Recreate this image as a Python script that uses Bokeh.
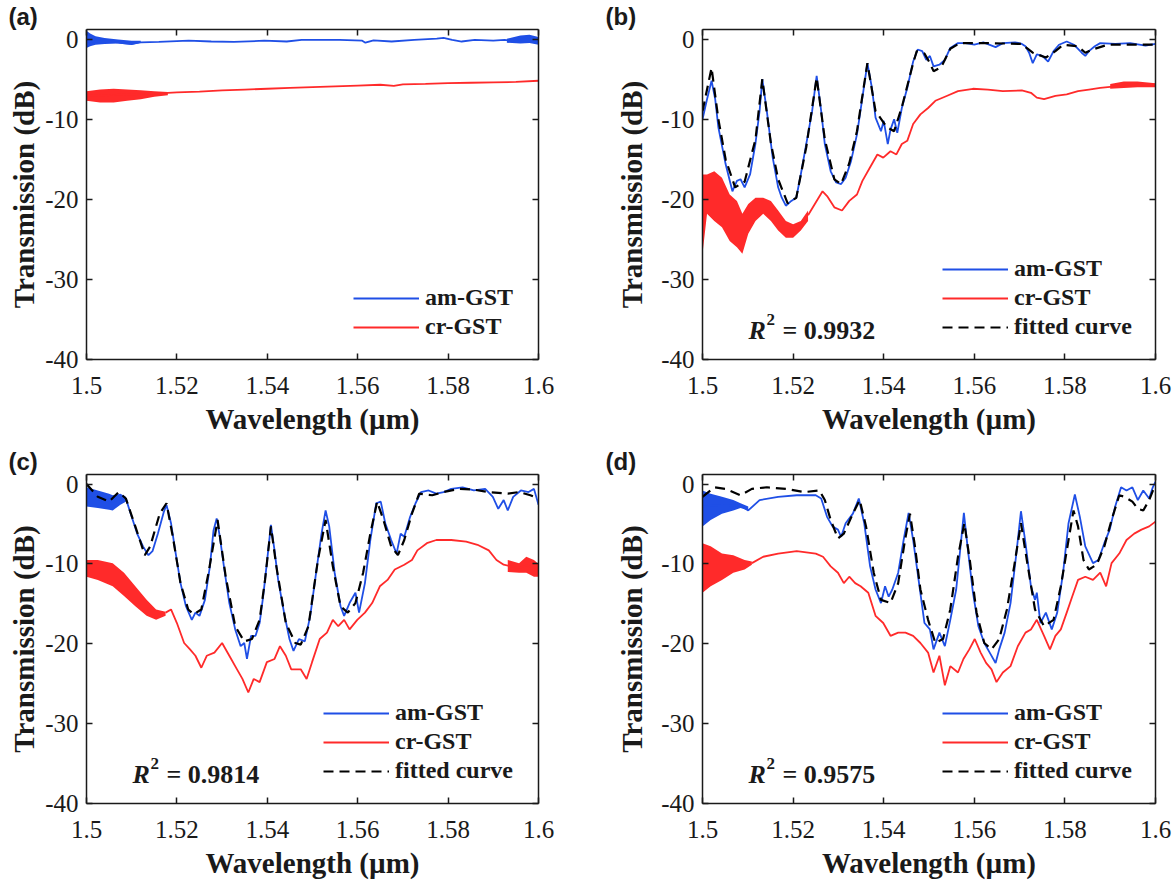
from bokeh.plotting import figure
from bokeh.layouts import column, row
from bokeh.models import (Range1d, LinearAxis, FixedTicker, Label, Legend,
                          LegendItem, CustomJSTickFormatter)
from bokeh.embed import file_html
from bokeh.resources import INLINE

# ---------------- data (wavelength in um, transmission in dB) ----------------
X_TICKS = [1.5, 1.52, 1.54, 1.56, 1.58, 1.6]
Y_TICKS = [-40, -30, -20, -10, 0]

# (a)
a_am_x = [1.500, 1.503, 1.506, 1.508, 1.510, 1.512, 1.516, 1.5226, 1.5276, 1.5326, 1.5393,
          1.5443, 1.5476, 1.556, 1.561, 1.5617, 1.5635, 1.5675, 1.5725, 1.5775, 1.579,
          1.5809, 1.583, 1.5859, 1.590, 1.5925, 1.5955, 1.5975, 1.600]
a_am_y = [-0.3, -0.3, -0.35, -0.5, -0.6, -0.4, -0.35, -0.2, -0.3, -0.35, -0.2,
          -0.3, -0.1, -0.1, -0.2, -0.45, -0.15, -0.3, -0.1, 0.06, 0.15,
          -0.1, -0.3, -0.1, -0.2, -0.1, -0.3, 0.3, -0.3]
a_am_band_x = [1.500, 1.5008, 1.502, 1.504, 1.507, 1.510, 1.512]
a_am_band_lo = [-1.1, -0.9, -0.7, -0.6, -0.55, -0.75, -0.45]
a_am_band_hi = [1.05, 0.7, 0.35, 0.15, -0.05, -0.2, -0.2]
a_am_band2_x = [1.593, 1.596, 1.598, 1.600]
a_am_band2_lo = [-0.45, -0.55, -0.5, -0.7]
a_am_band2_hi = [0.05, 0.45, 0.55, 0.25]
a_cr_x = [1.500, 1.505, 1.510, 1.515, 1.520, 1.525, 1.530, 1.535, 1.540, 1.545, 1.550,
          1.555, 1.560, 1.565, 1.568, 1.570, 1.575, 1.580, 1.585, 1.590, 1.595, 1.600]
a_cr_y = [-7.1, -7.0, -6.9, -6.8, -6.65, -6.55, -6.4, -6.3, -6.2, -6.1, -6.0,
          -5.9, -5.8, -5.7, -5.85, -5.65, -5.6, -5.5, -5.45, -5.4, -5.35, -5.2]
a_cr_band_x = [1.500, 1.503, 1.506, 1.509, 1.512, 1.515, 1.518]
a_cr_band_lo = [-7.7, -7.9, -7.9, -7.7, -7.5, -7.2, -7.0]
a_cr_band_hi = [-6.5, -6.3, -6.2, -6.3, -6.4, -6.5, -6.6]

# (b)
b_am_x = [1.5000, 1.5010, 1.5020, 1.5028, 1.5035, 1.5051, 1.5066, 1.5076, 1.5084, 1.5093,
          1.5105, 1.5117, 1.5126, 1.5132, 1.5142, 1.5155, 1.5167, 1.5175, 1.5184, 1.5196,
          1.5207, 1.5217, 1.5229, 1.5242, 1.5252, 1.5262, 1.5270, 1.5283, 1.5295, 1.5306,
          1.5316, 1.5328, 1.5341, 1.5353, 1.5364, 1.5374, 1.5382, 1.5394, 1.5400, 1.5409,
          1.5415, 1.5423, 1.5430, 1.5440, 1.5452, 1.5465, 1.5475, 1.5485, 1.5494, 1.5502,
          1.5510, 1.5523, 1.5535, 1.5547, 1.5564, 1.5581, 1.5600, 1.5620, 1.5647, 1.5663,
          1.5690, 1.5705, 1.5713, 1.5721, 1.5729, 1.5738, 1.5750, 1.5763, 1.5775, 1.5787,
          1.5804, 1.5820, 1.5837, 1.5845, 1.5853, 1.5866, 1.5878, 1.5911, 1.5944, 1.5978,
          1.6000]
b_am_y = [-10.0, -7.5, -5.2, -7.5, -11.0, -15.6, -19.0, -17.7, -17.5, -18.5,
          -16.9, -13.0, -9.0, -5.0, -9.0, -14.8, -18.5, -19.8, -20.8, -20.2,
          -19.8, -16.9, -13.1, -9.0, -4.6, -9.0, -13.1, -16.5, -17.9, -18.1,
          -17.3, -15.2, -11.9, -7.3, -3.0, -6.1, -9.8, -11.5, -10.2, -13.1,
          -11.3, -10.0, -11.7, -8.6, -6.1, -2.8, -1.3, -1.5, -2.6, -2.1,
          -3.4, -3.2, -2.6, -1.1, -0.5, -0.5, -0.7, -0.4, -1.0, -0.5,
          -0.4, -0.6, -0.9, -1.7, -3.0, -1.9, -2.1, -2.8, -1.5, -0.7,
          -0.3, -0.7, -1.7, -2.1, -1.5, -0.9, -0.5, -0.6, -0.5, -0.8,
          -0.6]
b_fit_x = [1.5000, 1.5020, 1.5035, 1.5051, 1.5072, 1.5093, 1.5117, 1.5132, 1.5151, 1.5167,
           1.5188, 1.5207, 1.5229, 1.5252, 1.5270, 1.5291, 1.5306, 1.5324, 1.5341, 1.5364,
           1.5382, 1.5407, 1.5423, 1.5440, 1.5465, 1.5473, 1.5490, 1.5502, 1.5510, 1.5527,
           1.5547, 1.5568, 1.5630, 1.5705, 1.5713, 1.5729, 1.5758, 1.5779, 1.5796, 1.5829,
           1.5845, 1.5866, 1.5895, 1.6000]
b_fit_y = [-9.0, -3.6, -10.0, -15.0, -18.5, -17.8, -12.5, -5.0, -13.0, -17.5,
           -20.5, -19.8, -13.5, -4.8, -12.5, -17.5, -18.1, -15.5, -11.5, -3.0,
           -9.0, -11.0, -11.5, -8.5, -3.0, -1.5, -1.8, -3.0, -4.0, -3.5,
           -1.2, -0.5, -0.5, -0.6, -1.0, -1.7, -2.3, -1.5, -0.7, -0.9,
           -1.7, -1.2, -0.7, -0.7]
b_cr_x = [1.5233, 1.5250, 1.5265, 1.5275, 1.5291, 1.5308, 1.5324, 1.5341, 1.5353, 1.5370,
          1.5386, 1.5399, 1.5415, 1.5428, 1.5440, 1.5452, 1.5465, 1.5481, 1.5498, 1.5514,
          1.5539, 1.5564, 1.5597, 1.5630, 1.5663, 1.5705, 1.5725, 1.5738, 1.5754, 1.5779,
          1.5804, 1.5829, 1.5853, 1.5878, 1.5911, 1.5953, 1.6000]
b_cr_y = [-22.0, -20.4, -19.0, -19.6, -21.0, -21.4, -20.2, -19.4, -17.7, -16.0,
          -14.4, -14.8, -14.0, -14.4, -13.1, -12.7, -10.6, -9.4, -8.6, -7.7,
          -7.1, -6.5, -6.2, -6.3, -6.5, -6.4, -6.7, -7.3, -7.5, -7.1,
          -6.9, -6.5, -6.3, -6.1, -5.9, -5.6, -5.7]
b_cr_band_x = [1.5000, 1.5010, 1.5026, 1.5043, 1.5060, 1.5076, 1.5088, 1.5101, 1.5117,
               1.5134, 1.5151, 1.5167, 1.5184, 1.5200, 1.5217, 1.5233]
b_cr_band_lo = [-26.8, -21.8, -22.7, -23.5, -25.2, -26.0, -26.8, -24.3, -22.7,
                -21.8, -22.7, -23.9, -24.8, -24.8, -23.9, -22.7]
b_cr_band_hi = [-16.9, -16.9, -16.5, -17.3, -19.4, -20.2, -21.8, -20.6, -19.8,
                -19.8, -20.2, -21.4, -22.7, -23.1, -22.7, -21.4]
b_cr_band2_x = [1.5900, 1.5930, 1.5960, 1.6000]
b_cr_band2_lo = [-6.2, -6.1, -6.0, -6.0]
b_cr_band2_hi = [-5.6, -5.3, -5.3, -5.5]

# (c)
c_am_x = [1.5000, 1.5025, 1.5050, 1.5075, 1.5087, 1.5100, 1.5112, 1.5125, 1.5137, 1.5146,
          1.5158, 1.5171, 1.5177, 1.5187, 1.5196, 1.5208, 1.5220, 1.5233, 1.5241, 1.5250,
          1.5262, 1.5273, 1.5281, 1.5288, 1.5295, 1.5304, 1.5316, 1.5329, 1.5341, 1.5349,
          1.5355, 1.5364, 1.5374, 1.5383, 1.5391, 1.5399, 1.5408, 1.5416, 1.5424, 1.5437,
          1.5449, 1.5458, 1.5470, 1.5483, 1.5495, 1.5508, 1.5520, 1.5529, 1.5537, 1.5549,
          1.5562, 1.5570, 1.5582, 1.5595, 1.5603, 1.5616, 1.5628, 1.5641, 1.5651, 1.5661,
          1.5674, 1.5686, 1.5695, 1.5703, 1.5716, 1.5728, 1.5740, 1.5757, 1.5774, 1.5790,
          1.5807, 1.5832, 1.5857, 1.5882, 1.5899, 1.5911, 1.5923, 1.5932, 1.5944, 1.5961,
          1.5978, 1.5990, 1.6000]
c_am_y = [-1.6, -1.9, -2.3, -1.9, -1.8, -4.1, -6.2, -7.8, -8.9, -8.4,
          -6.2, -3.5, -2.6, -4.9, -8.2, -12.4, -15.3, -17.0, -16.1, -16.5,
          -14.5, -10.3, -5.8, -4.3, -6.6, -10.3, -14.9, -18.2, -20.3, -19.9,
          -21.9, -19.0, -19.0, -17.4, -14.0, -9.9, -5.1, -8.3, -12.0, -16.1,
          -19.4, -20.9, -19.4, -19.7, -16.5, -11.1, -6.2, -3.3, -5.3, -11.1,
          -15.3, -16.5, -14.9, -13.6, -16.1, -12.4, -7.0, -2.4, -2.2, -4.9,
          -7.0, -8.7, -6.2, -6.6, -4.1, -2.4, -1.0, -0.8, -1.2, -1.0,
          -0.6, -0.4, -0.8, -0.6, -1.6, -3.1, -2.0, -3.3, -1.6, -0.8,
          -1.0, -0.6, -2.6]
c_am_band_x = [1.5000, 1.5025, 1.5050, 1.5058, 1.5075, 1.5087]
c_am_band_lo = [-2.8, -3.0, -3.2, -3.3, -2.6, -2.2]
c_am_band_hi = [-0.4, -0.8, -1.2, -1.4, -1.2, -1.6]
c_fit_x = [1.5000, 1.5025, 1.5050, 1.5071, 1.5087, 1.5108, 1.5129, 1.5141, 1.5162, 1.5177,
           1.5191, 1.5208, 1.5225, 1.5237, 1.5254, 1.5270, 1.5290, 1.5308, 1.5329, 1.5349,
           1.5366, 1.5383, 1.5395, 1.5408, 1.5420, 1.5441, 1.5462, 1.5474, 1.5491, 1.5512,
           1.5529, 1.5545, 1.5562, 1.5578, 1.5595, 1.5612, 1.5628, 1.5643, 1.5657, 1.5674,
           1.5689, 1.5703, 1.5720, 1.5736, 1.5765, 1.5790, 1.5824, 1.5857, 1.5890, 1.5932,
           1.5957, 1.5982, 1.6000]
c_fit_y = [0.0, -1.6, -2.2, -1.0, -1.8, -5.3, -8.9, -7.8, -3.7, -2.4,
           -6.6, -12.4, -15.7, -16.3, -15.7, -11.1, -4.5, -11.6, -17.8, -19.7,
           -19.4, -17.0, -12.0, -5.3, -10.3, -17.4, -19.9, -20.1, -17.8, -9.5,
           -4.5, -10.3, -15.3, -16.1, -14.9, -11.1, -6.2, -2.2, -4.5, -7.8,
           -8.9, -7.0, -3.7, -1.2, -1.4, -1.0, -0.6, -0.7, -1.0, -1.2,
           -1.0, -1.4, -1.8]
c_cr_x = [1.5175, 1.5187, 1.5200, 1.5216, 1.5229, 1.5241, 1.5254, 1.5266, 1.5283, 1.5300,
          1.5316, 1.5333, 1.5345, 1.5358, 1.5370, 1.5383, 1.5399, 1.5416, 1.5428, 1.5441,
          1.5453, 1.5474, 1.5487, 1.5499, 1.5516, 1.5532, 1.5545, 1.5557, 1.5570, 1.5582,
          1.5599, 1.5616, 1.5632, 1.5649, 1.5666, 1.5682, 1.5703, 1.5720, 1.5732, 1.5753,
          1.5774, 1.5807, 1.5840, 1.5865, 1.5890, 1.5907, 1.5923, 1.5940, 1.5957, 1.5973,
          1.5990, 1.6000]
c_cr_y = [-16.1, -15.7, -17.4, -19.9, -20.7, -21.5, -23.0, -21.5, -21.1, -19.9,
          -21.5, -23.2, -24.4, -26.1, -24.4, -24.8, -22.3, -21.9, -20.3, -21.5,
          -23.2, -23.2, -24.4, -22.3, -19.4, -18.6, -17.0, -17.8, -17.0, -18.2,
          -17.0, -16.1, -14.9, -12.8, -12.0, -10.7, -10.1, -9.5, -8.3, -7.4,
          -7.0, -7.0, -7.2, -7.6, -8.3, -9.5, -10.1, -10.3, -10.5, -10.2,
          -10.4, -10.7]
c_cr_band_x = [1.5000, 1.5025, 1.5058, 1.5083, 1.5108, 1.5133, 1.5154, 1.5175]
c_cr_band_lo = [-11.6, -12.0, -12.8, -14.0, -15.3, -16.5, -17.0, -16.5]
c_cr_band_hi = [-9.5, -9.5, -9.9, -11.1, -12.8, -14.5, -15.7, -16.0]
c_cr_band2_x = [1.5932, 1.5957, 1.5973, 1.5990, 1.6000]
c_cr_band2_lo = [-11.0, -11.1, -11.1, -11.6, -11.6]
c_cr_band2_hi = [-9.5, -9.9, -9.1, -9.5, -10.0]

# (d)
d_am_x = [1.5000, 1.5043, 1.5084, 1.5101, 1.5126, 1.5167, 1.5208, 1.5250, 1.5262, 1.5275,
          1.5287, 1.5299, 1.5306, 1.5316, 1.5332, 1.5345, 1.5357, 1.5370, 1.5382, 1.5394,
          1.5403, 1.5411, 1.5419, 1.5432, 1.5444, 1.5455, 1.5465, 1.5477, 1.5490, 1.5502,
          1.5510, 1.5523, 1.5535, 1.5547, 1.5560, 1.5568, 1.5577, 1.5585, 1.5597, 1.5609,
          1.5622, 1.5634, 1.5647, 1.5655, 1.5667, 1.5680, 1.5692, 1.5703, 1.5713, 1.5725,
          1.5734, 1.5738, 1.5746, 1.5758, 1.5771, 1.5783, 1.5796, 1.5808, 1.5822, 1.5833,
          1.5845, 1.5862, 1.5874, 1.5887, 1.5899, 1.5911, 1.5924, 1.5936, 1.5949, 1.5961,
          1.5973, 1.5986, 1.5994, 1.6000]
d_am_y = [-2.8, -2.6, -2.7, -3.3, -2.0, -1.6, -1.4, -1.4, -1.8, -4.1,
          -5.3, -5.7, -6.6, -4.9, -3.7, -1.8, -4.9, -10.3, -13.2, -14.9,
          -12.8, -14.1, -13.2, -11.1, -7.0, -3.6, -7.0, -12.0, -17.4, -18.2,
          -20.7, -18.6, -20.3, -17.0, -13.2, -8.7, -3.6, -7.8, -13.6, -17.8,
          -19.9, -21.1, -22.4, -20.7, -18.6, -14.9, -9.1, -3.4, -7.4, -12.8,
          -14.5, -13.6, -17.4, -16.1, -18.2, -16.1, -11.1, -4.9, -1.3, -4.1,
          -7.8, -9.9, -9.5, -7.4, -5.7, -2.8, -0.4, -0.8, -0.4, -2.0,
          -0.8, -1.8, -0.4, 0.3]
d_am_band_x = [1.5000, 1.5018, 1.5043, 1.5068, 1.5084, 1.5101]
d_am_band_lo = [-5.3, -4.5, -3.7, -3.3, -3.0, -3.3]
d_am_band_hi = [-0.8, -1.2, -1.6, -2.0, -2.4, -2.8]
d_fit_x = [1.5000, 1.5026, 1.5051, 1.5084, 1.5109, 1.5142, 1.5184, 1.5225, 1.5258, 1.5270,
           1.5283, 1.5299, 1.5312, 1.5332, 1.5347, 1.5361, 1.5378, 1.5394, 1.5415, 1.5432,
           1.5447, 1.5458, 1.5469, 1.5481, 1.5498, 1.5514, 1.5531, 1.5547, 1.5564, 1.5578,
           1.5590, 1.5605, 1.5622, 1.5638, 1.5655, 1.5672, 1.5688, 1.5703, 1.5717, 1.5734,
           1.5754, 1.5775, 1.5791, 1.5808, 1.5819, 1.5829, 1.5841, 1.5853, 1.5870, 1.5887,
           1.5903, 1.5920, 1.5932, 1.5949, 1.5961, 1.5973, 1.5986, 1.6000]
d_fit_y = [-1.6, -0.4, -0.6, -1.4, -0.6, -0.4, -0.6, -1.0, -0.8, -2.0,
           -4.5, -6.8, -6.2, -3.7, -2.0, -5.3, -11.1, -14.5, -14.9, -12.4,
           -7.0, -3.7, -7.8, -13.2, -17.0, -19.9, -19.4, -15.7, -9.1, -4.9,
           -9.5, -16.1, -19.9, -20.7, -19.4, -15.7, -10.3, -4.9, -9.9, -15.7,
           -17.8, -17.0, -12.8, -7.0, -3.3, -5.3, -9.5, -10.7, -10.1, -7.8,
           -4.5, -1.4, -1.6, -2.2, -3.1, -3.3, -2.0, 0.0]
d_cr_x = [1.5109, 1.5134, 1.5167, 1.5208, 1.5250, 1.5266, 1.5283, 1.5299, 1.5312, 1.5324,
          1.5337, 1.5349, 1.5366, 1.5382, 1.5399, 1.5415, 1.5432, 1.5448, 1.5465, 1.5481,
          1.5498, 1.5510, 1.5523, 1.5535, 1.5547, 1.5564, 1.5576, 1.5589, 1.5601, 1.5614,
          1.5626, 1.5638, 1.5649, 1.5663, 1.5680, 1.5696, 1.5713, 1.5725, 1.5738, 1.5754,
          1.5767, 1.5779, 1.5791, 1.5804, 1.5816, 1.5829, 1.5845, 1.5862, 1.5878, 1.5891,
          1.5903, 1.5920, 1.5936, 1.5953, 1.5969, 1.5986, 1.6000]
d_cr_y = [-9.9, -9.1, -8.7, -8.4, -8.7, -9.1, -10.3, -11.1, -12.4, -11.6,
          -12.4, -12.8, -13.6, -16.5, -17.4, -19.0, -18.6, -18.6, -19.0, -19.9,
          -21.1, -23.6, -21.5, -25.2, -22.8, -23.6, -21.9, -20.7, -19.4, -21.1,
          -22.4, -23.2, -24.8, -23.6, -22.8, -20.3, -18.6, -18.2, -17.0, -19.0,
          -20.7, -19.0, -18.2, -16.1, -14.1, -12.0, -11.6, -12.0, -11.1, -12.8,
          -9.9, -8.7, -7.0, -6.2, -5.7, -5.3, -4.7]
d_cr_band_x = [1.5000, 1.5018, 1.5043, 1.5068, 1.5093, 1.5109]
d_cr_band_lo = [-13.6, -12.8, -12.0, -11.1, -10.7, -10.1]
d_cr_band_hi = [-7.4, -7.8, -8.7, -8.9, -9.5, -9.7]

# ---------------- styling ----------------
BLUE = "#1F4FE6"
RED = "#FF2A2A"
INK = "#1a1a1a"
SERIF = "Liberation Serif"
SANS = "Liberation Sans"
XFMT = CustomJSTickFormatter(code="return (Math.round(tick*100)/100).toString();")
YFMT = CustomJSTickFormatter(code="return Math.round(tick).toString();")
EMPTY = CustomJSTickFormatter(code="return '';")


def style_axis(ax, ticks, hidden=False):
    ax.ticker = FixedTicker(ticks=ticks)
    ax.major_tick_in = 6
    ax.major_tick_out = 0
    ax.minor_tick_line_color = None
    ax.axis_line_width = 1.5
    ax.major_tick_line_width = 1.5
    ax.axis_line_color = INK
    ax.major_tick_line_color = INK
    ax.major_label_text_font = SERIF
    ax.major_label_text_font_size = "25px"
    ax.major_label_text_color = INK
    if hidden:
        ax.formatter = EMPTY
        ax.major_label_text_font_size = "1px"
        ax.major_label_standoff = 0


def panel(letter, w, h, bl, br, bt, bb, ylab_standoff, am, cr, fit, bands, r2, legend_xy):
    p = figure(width=w, height=h, x_range=Range1d(1.5, 1.6), y_range=Range1d(-40, 1.2),
               output_backend="svg", toolbar_location=None,
               min_border_left=bl, min_border_right=br, min_border_top=bt, min_border_bottom=bb,
               x_axis_label="Wavelength (µm)", y_axis_label="Transmission (dB)")
    p.grid.visible = False
    p.outline_line_color = None
    style_axis(p.xaxis[0], X_TICKS)
    style_axis(p.yaxis[0], Y_TICKS)
    p.xaxis[0].formatter = XFMT
    p.yaxis[0].formatter = YFMT
    p.xaxis[0].major_label_standoff = 17
    p.yaxis[0].major_label_standoff = 8
    for ax in (p.xaxis[0], p.yaxis[0]):
        ax.axis_label_text_font = SERIF
        ax.axis_label_text_font_style = "bold"
        ax.axis_label_text_font_size = "29px"
        ax.axis_label_text_color = INK
    p.xaxis[0].axis_label_standoff = 6
    p.yaxis[0].axis_label_standoff = ylab_standoff
    ra = LinearAxis()
    style_axis(ra, Y_TICKS, hidden=True)
    p.add_layout(ra, "right")
    ta = LinearAxis()
    style_axis(ta, X_TICKS, hidden=True)
    p.add_layout(ta, "above")

    p.title.text = letter[0]
    p.title.align = "left"
    p.title.offset = letter[1]
    p.title.standoff = 0
    p.title.text_font = SANS
    p.title.text_font_style = "bold"
    p.title.text_font_size = "24px"
    p.title.text_color = INK

    for bx, lo, hi, col in bands:
        p.varea(x=bx, y1=lo, y2=hi, fill_color=col, fill_alpha=1.0)
    r_cr = p.line(cr[0], cr[1], line_color=RED, line_width=1.8)
    r_am = p.line(am[0], am[1], line_color=BLUE, line_width=1.8)
    items = [LegendItem(label="am-GST", renderers=[r_am]),
             LegendItem(label="cr-GST", renderers=[r_cr])]
    if fit is not None:
        r_fit = p.line(fit[0], fit[1], line_color="black", line_width=2.2, line_dash="10 6")
        items.append(LegendItem(label="fitted curve", renderers=[r_fit]))

    leg = Legend(items=items, location=legend_xy, orientation="vertical",
                 border_line_color=None, background_fill_alpha=0, padding=0, margin=0,
                 spacing=2, glyph_width=66, glyph_height=26, label_height=26,
                 label_standoff=6, label_text_font=SERIF, label_text_font_style="bold",
                 label_text_font_size="24px", label_text_color=INK)
    p.add_layout(leg)

    if r2 is not None:
        p.add_layout(Label(x=1.5, y=-40, x_offset=46, y_offset=29, text="R",
                           text_font=SERIF, text_font_style="bold italic", text_font_size="26px",
                           text_baseline="alphabetic", text_color=INK))
        p.add_layout(Label(x=1.5, y=-40, x_offset=64, y_offset=40, text="2",
                           text_font=SERIF, text_font_style="bold", text_font_size="17px",
                           text_baseline="alphabetic", text_color=INK))
        p.add_layout(Label(x=1.5, y=-40, x_offset=80, y_offset=29, text="= " + r2,
                           text_font=SERIF, text_font_style="bold", text_font_size="26px",
                           text_baseline="alphabetic", text_color=INK))
    return p


pa = panel(("(a)", -78), 592, 445, 86, 54, 27, 86, 2,
           (a_am_x, a_am_y), (a_cr_x, a_cr_y), None,
           [(a_cr_band_x, a_cr_band_lo, a_cr_band_hi, RED),
            (a_am_band_x, a_am_band_lo, a_am_band_hi, BLUE),
            (a_am_band2_x, a_am_band2_lo, a_am_band2_hi, BLUE)],
           None, (267, 19))
pb = panel(("(b)", -97), 584, 445, 110, 21, 27, 86, 10,
           (b_am_x, b_am_y), (b_cr_x, b_cr_y), (b_fit_x, b_fit_y),
           [(b_cr_band_x, b_cr_band_lo, b_cr_band_hi, RED),
            (b_cr_band2_x, b_cr_band2_lo, b_cr_band2_hi, RED)],
           "0.9932", (240, 19))
pc = panel(("(c)", -78), 592, 444, 86, 54, 27, 86, 2,
           (c_am_x, c_am_y), (c_cr_x, c_cr_y), (c_fit_x, c_fit_y),
           [(c_cr_band_x, c_cr_band_lo, c_cr_band_hi, RED),
            (c_cr_band2_x, c_cr_band2_lo, c_cr_band2_hi, RED),
            (c_am_band_x, c_am_band_lo, c_am_band_hi, BLUE)],
           "0.9814", (237, 19))
pd_ = panel(("(d)", -97), 584, 444, 110, 21, 27, 86, 10,
            (d_am_x, d_am_y), (d_cr_x, d_cr_y), (d_fit_x, d_fit_y),
            [(d_cr_band_x, d_cr_band_lo, d_cr_band_hi, RED),
             (d_am_band_x, d_am_band_lo, d_am_band_hi, BLUE)],
            "0.9575", (240, 19))

layout = column(row(pa, pb), row(pc, pd_))
open("out.html", "w").write(file_html(layout, INLINE))
